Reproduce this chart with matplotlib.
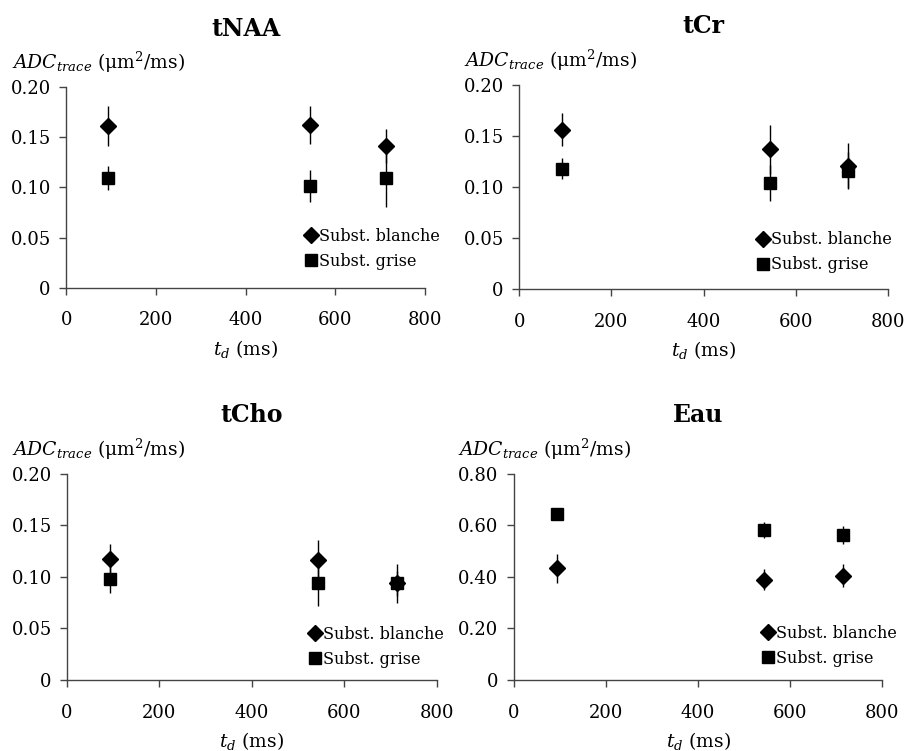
import numpy as np
import matplotlib
matplotlib.use("Agg")
import matplotlib.pyplot as plt
from matplotlib.ticker import FuncFormatter

plt.rcParams['font.family'] = ['DejaVu Serif']
plt.rcParams['mathtext.fontset'] = 'dejavuserif'

td = [93, 544, 714]

titles = ["tNAA", "tCr", "tCho", "Eau"]

blanche = {
    "tNAA": [0.161, 0.162, 0.141],
    "tCr": [0.156, 0.137, 0.121],
    "tCho": [0.117, 0.116, 0.094],
    "Eau": [0.433, 0.390, 0.405],
}
blanche_err = {
    "tNAA": [0.020, 0.019, 0.017],
    "tCr": [0.016, 0.024, 0.022],
    "tCho": [0.015, 0.020, 0.019],
    "Eau": [0.057, 0.040, 0.045],
}
grise = {
    "tNAA": [0.109, 0.101, 0.109],
    "tCr": [0.118, 0.104, 0.116],
    "tCho": [0.098, 0.094, 0.094],
    "Eau": [0.645, 0.583, 0.562],
}
grise_err = {
    "tNAA": [0.012, 0.016, 0.029],
    "tCr": [0.010, 0.018, 0.018],
    "tCho": [0.014, 0.022, 0.012],
    "Eau": [0.008, 0.030, 0.035],
}

yticks_small = [0, 0.05, 0.10, 0.15, 0.20]
yticks_eau = [0, 0.20, 0.40, 0.60, 0.80]
xticks = [0, 200, 400, 600, 800]

# axes rectangles in figure fraction (left, bottom, width, height)
rects = [
    (0.073, 0.617, 0.396, 0.267),
    (0.573, 0.615, 0.407, 0.272),
    (0.074, 0.0945, 0.408, 0.2745),
    (0.567, 0.0945, 0.407, 0.2745),
]
# legend lower-left anchor per panel (axes fraction)
leg_pos = [(0.66, 0.09), (0.64, 0.078), (0.649, 0.058), (0.667, 0.063)]

fig = plt.figure(figsize=(9.06, 7.51), dpi=100)

def fmt(v, pos):
    return "0" if abs(v) < 1e-9 else f"{v:.2f}"

for name, rect, lp in zip(titles, rects, leg_pos):
    ax = fig.add_axes(rect)
    eb1 = ax.errorbar(td, blanche[name], yerr=blanche_err[name], fmt='D', color='black',
                      ms=8, elinewidth=1.0, capsize=0)
    eb2 = ax.errorbar(td, grise[name], yerr=grise_err[name], fmt='s', color='black',
                      ms=8, elinewidth=1.0, capsize=0)
    ax.set_xlim(0, 800)
    ax.set_xticks(xticks)
    if name == "Eau":
        ax.set_ylim(0, 0.8)
        ax.set_yticks(yticks_eau)
    else:
        ax.set_ylim(0, 0.2)
        ax.set_yticks(yticks_small)
    ax.yaxis.set_major_formatter(FuncFormatter(fmt))
    for s in ['top', 'right']:
        ax.spines[s].set_visible(False)
    for s in ['left', 'bottom']:
        ax.spines[s].set_color('#444444')
        ax.spines[s].set_linewidth(1.0)
    ax.tick_params(direction='out', length=5, width=1, color='#444444',
                   labelsize=13)
    ax.tick_params(axis='x', pad=12)
    ax.tick_params(axis='y', pad=6)
    ax.set_title(name, fontsize=17, fontweight='bold', pad=37)
    ax.text(-0.15, 1.06, r'$\mathit{ADC}_{\mathit{trace}}$ (μm$^2$/ms)',
            transform=ax.transAxes, fontsize=13.5, ha='left', va='bottom')
    ax.set_xlabel(r'$t_d$ (ms)', fontsize=13.5, labelpad=6)
    ax.legend([eb1[0], eb2[0]], ["Subst. blanche", "Subst. grise"],
              loc='lower left', bbox_to_anchor=lp, frameon=False,
              fontsize=11.5, handletextpad=0.0, handlelength=1.0,
              labelspacing=0.5, borderaxespad=0, borderpad=0)

fig.savefig("out.png", dpi=100)
